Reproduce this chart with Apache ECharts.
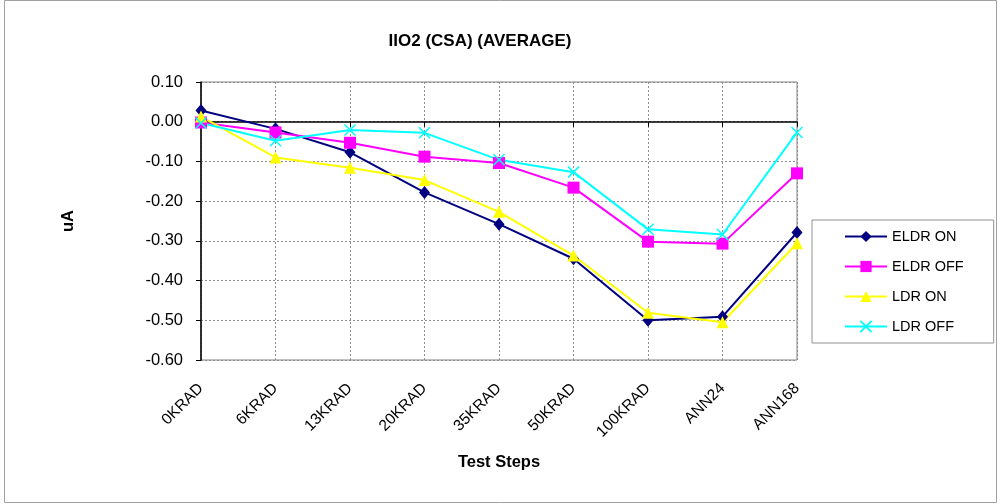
<!DOCTYPE html>
<html>
<head>
<meta charset="utf-8">
<script src="https://cdn.jsdelivr.net/npm/echarts@6/dist/echarts.min.js"></script>
<style>
html,body{margin:0;padding:0;background:#fff;}
#chart{width:1000px;height:504px;}
</style>
</head>
<body>
<div id="chart"></div>
<script>
const categories = ['0KRAD','6KRAD','13KRAD','20KRAD','35KRAD','50KRAD','100KRAD','ANN24','ANN168'];
const eldrOn  = [0.028, -0.018, -0.077, -0.178, -0.258, -0.345, -0.500, -0.491, -0.279];
const eldrOff = [-0.002, -0.027, -0.053, -0.088, -0.104, -0.166, -0.302, -0.307, -0.130];
const ldrOn   = [0.013, -0.090, -0.116, -0.147, -0.227, -0.337, -0.481, -0.505, -0.306];
const ldrOff  = [-0.003, -0.048, -0.021, -0.028, -0.096, -0.127, -0.271, -0.284, -0.027];
const seriesNames = ['ELDR ON','ELDR OFF','LDR ON','LDR OFF'];

const FONT = '"Liberation Sans", Arial, sans-serif';
const xPath = 'path://M0,0L10,10M10,0L0,10';

const chart = echarts.init(document.getElementById('chart'), null, {renderer:'canvas'});
chart.setOption({
  animation: false,
  backgroundColor: '#ffffff',
  title: {
    text: 'IIO2 (CSA) (AVERAGE)',
    left: 475, top: 28, textAlign: 'center',
    textStyle: {fontFamily: FONT, fontSize: 17, fontWeight: 'bold', color: '#000'}
  },
  graphic: [{
    type: 'rect', shape: {x: 4.5, y: 0.5, width: 992, height: 502},
    style: {fill: 'none', stroke: '#a0a0a0', lineWidth: 1}, silent: true
  }],
  legend: {
    orient: 'vertical', left: 812, top: 220,
    padding: [9, 30, 9, 32],
    itemGap: 15, itemWidth: 42, itemHeight: 14,
    borderColor: '#909090', borderWidth: 1,
    textStyle: {fontFamily: FONT, fontSize: 14.5, color: '#000', lineHeight: 15},
    data: seriesNames
  },
  grid: {
    left: 201, right: 203, top: 82, bottom: 144,
    show: true, borderColor: '#808080', borderWidth: 1
  },
  xAxis: {
    type: 'category', data: categories, boundaryGap: false,
    name: 'Test Steps', nameLocation: 'middle', nameGap: 94, nameMoveOverlap: false,
    nameTextStyle: {fontFamily: FONT, fontSize: 16.5, fontWeight: 'bold', color: '#000'},
    axisLine: {lineStyle: {color: '#000', width: 1.5}},
    axisTick: {show: true, alignWithLabel: true, length: 5, lineStyle: {color: '#000'}},
    axisLabel: {rotate: 45, margin: 26, fontFamily: FONT, fontSize: 15.5, color: '#000', interval: 0},
    splitLine: {show: true, lineStyle: {color: '#909090', type: [2, 2], width: 1}}
  },
  yAxis: {
    type: 'value', min: -0.6, max: 0.1, interval: 0.1,
    name: 'uA', nameLocation: 'middle', nameGap: 124, nameRotate: 90, nameMoveOverlap: false,
    nameTextStyle: {fontFamily: FONT, fontSize: 16.5, fontWeight: 'bold', color: '#000'},
    axisLine: {show: true, lineStyle: {color: '#000', width: 1.5}},
    axisTick: {show: true, length: 5, lineStyle: {color: '#000'}},
    axisLabel: {margin: 18, fontFamily: FONT, fontSize: 16.5, color: '#000',
      formatter: v => v.toFixed(2)},
    splitLine: {show: true, lineStyle: {color: '#909090', type: [2, 2], width: 1}}
  },
  series: [
    {name: seriesNames[0], type: 'line', data: eldrOn, symbol: 'diamond', symbolSize: [11, 13],
     lineStyle: {color: '#000080', width: 2}, itemStyle: {color: '#000080'}},
    {name: seriesNames[1], type: 'line', data: eldrOff, symbol: 'rect', symbolSize: 12,
     lineStyle: {color: '#FF00FF', width: 2}, itemStyle: {color: '#FF00FF'}},
    {name: seriesNames[2], type: 'line', data: ldrOn, symbol: 'triangle', symbolSize: 12,
     lineStyle: {color: '#FFFF00', width: 2}, itemStyle: {color: '#FFFF00'}},
    {name: seriesNames[3], type: 'line', data: ldrOff, symbol: xPath, symbolSize: 11,
     lineStyle: {color: '#00FFFF', width: 2}, itemStyle: {color: '#00FFFF', borderColor: '#00FFFF', borderWidth: 1.5}}
  ]
});
</script>
</body>
</html>
